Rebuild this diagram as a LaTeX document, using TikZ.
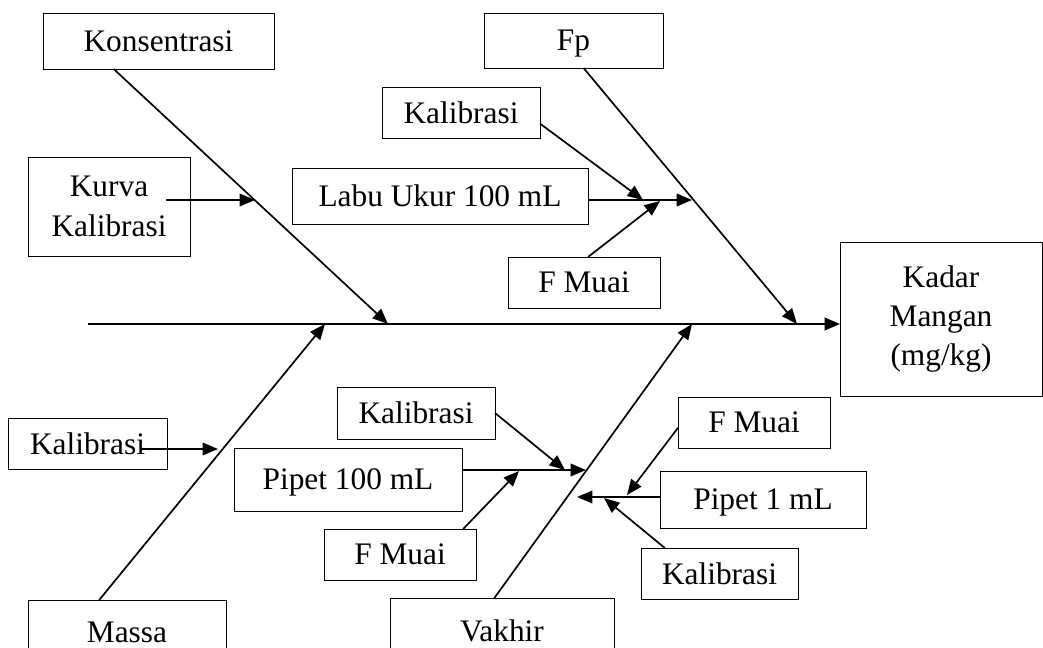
\documentclass[tikz,border=0pt]{standalone}
\usepackage{fontspec}
\setmainfont{Liberation Serif}
\usetikzlibrary{arrows.meta,calc}
\newdimen\pxu \pxu=0.025cm
\begin{document}
\begin{tikzpicture}[x=0.025cm,y=-0.025cm,inner sep=0pt,outer sep=0pt,line width=1.2pt,
cause/.style={draw,rectangle,line width=0.7pt,align=center,font=\fontsize{22.3}{28}\selectfont},
size/.style 2 args={minimum width=#1\pxu,minimum height=#2\pxu},
flat/.style={text depth=0pt},
->/.style={-{Triangle[length=11pt,width=9pt]}}]
\useasboundingbox (0,0) rectangle (1043,648);
\clip (0,0) rectangle (1043,648);

% boxes above the spine
\draw (158.5,41) node[cause,size={231}{56}] (kons) {Konsentrasi};
\draw (109,206.5) node[cause,size={162}{99}] (kurva) {Kurva\\Kalibrasi};
\draw (573.5,40.5) node[cause,flat,size={179}{55}] (fp) {Fp};
\draw (461,112.5) node[cause,size={158}{51}] (kalA) {Kalibrasi};
\draw (440,196) node[cause,size={296}{56}] (labu) {Labu Ukur 100 mL};
\draw (584,282.5) node[cause,size={152}{51}] (muaiA) {F Muai};
\draw (941,319) node[cause,size={202}{154}] (kadar) {Kadar\\Mangan\\(mg/kg)};

% boxes below the spine
\draw (87.5,443.5) node[cause,size={159}{51}] (kalB) {Kalibrasi};
\draw (127,632) node[cause,size={198}{64}] (massa) {Massa};
\draw (416,413) node[cause,size={158}{52}] (kalC) {Kalibrasi};
\draw (348,479.5) node[cause,flat,size={228}{63}] (pip100) {Pipet 100 mL};
\draw (400,554.5) node[cause,size={152}{51}] (muaiB) {F Muai};
\draw (502,631) node[cause,size={224}{66}] (vakhir) {Vakhir};
\draw (754,422.5) node[cause,size={152}{51}] (muaiC) {F Muai};
\draw (763,499.5) node[cause,flat,size={206}{57}] (pip1) {Pipet 1 mL};
\draw (719.5,573.5) node[cause,size={157}{51}] (kalD) {Kalibrasi};

% points on the spine and bones
\coordinate (spS) at (88,324);
\coordinate (tKons) at (388,324);
\coordinate (tFp) at (797,324);
\coordinate (tMassa) at (325,324);
\coordinate (tVakhir) at (692,324);
\coordinate (tKurva) at (255,200);
\coordinate (tKalB) at (218,449);
\coordinate (tLabu) at (692,200);
\coordinate (tKalA) at (643,200);
\coordinate (tMuaiA) at (660,201);
\coordinate (tPip100) at (586,470);
\coordinate (tKalC) at (565,470);
\coordinate (tMuaiB) at (519,471);
\coordinate (tPip1) at (577,497);
\coordinate (tMuaiC) at (627,495);
\coordinate (tKalD) at (604,498);

% spine and bones
\draw[->,line width=1.5pt] (spS) -- (spS -| kadar.west);
\draw[->] (kons.212.8) -- (tKons);
\draw[->] (fp.290.9) -- (tFp);
\draw[->] (massa.131.3) -- (tMassa);
\draw[->] (vakhir.103.6) -- (tVakhir);

% sub causes
\draw[->] ($(kurva.east)+(-24,-6.5)$) -- (tKurva);
\draw[->] ($(kalB.east)+(-27,5.5)$) -- (tKalB);
\draw[->] (kalA.-8.3) -- (tKalA);
\draw[->] ($(labu.east)+(0,4)$) -- (tLabu);
\draw[->] (muaiA.81) -- (tMuaiA);
\draw[->] ($(pip100.east)+(0,-9.5)$) -- (tPip100);
\draw[->] (kalC.east) -- (tKalC);
\draw[->] (muaiB.22) -- (tMuaiB);
\draw[->] ($(pip1.west)+(0,-2.5)$) -- (tPip1);
\draw[->] (muaiC.184.1) -- (tMuaiC);
\draw[->] (kalD.155.7) -- (tKalD);
\end{tikzpicture}
\end{document}
